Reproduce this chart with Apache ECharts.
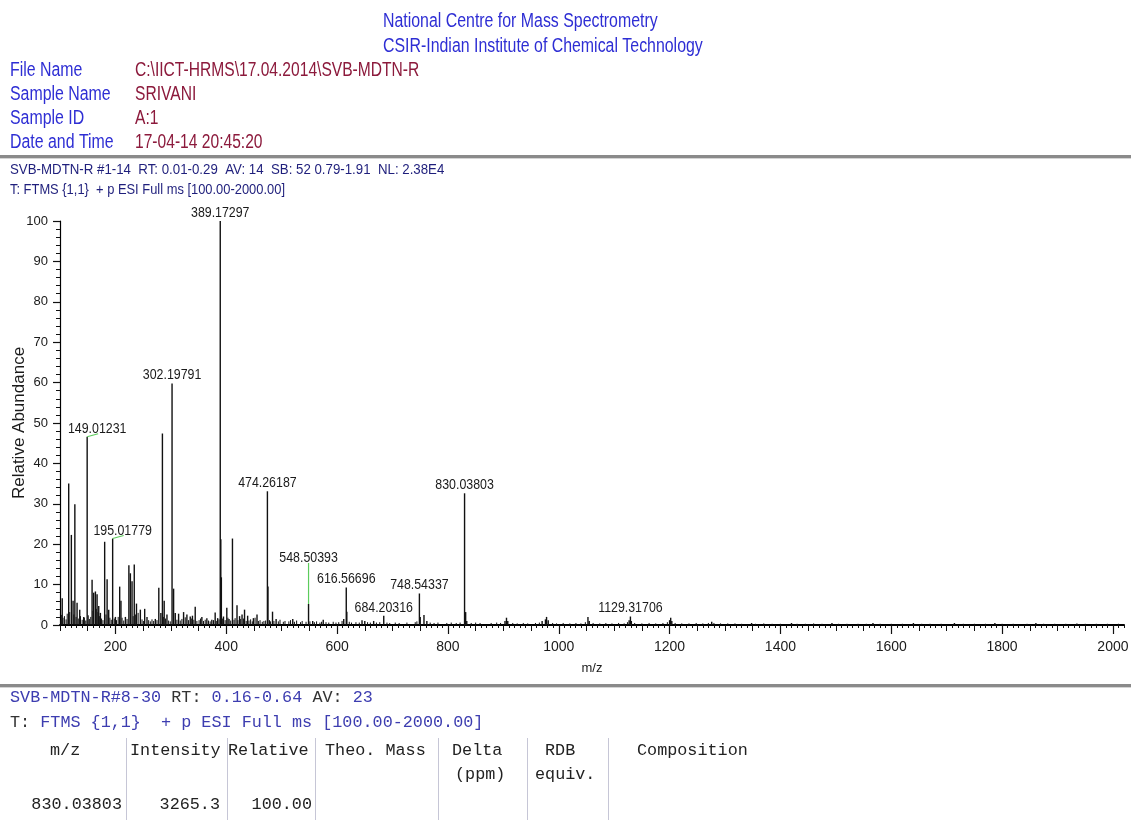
<!DOCTYPE html>
<html>
<head>
<meta charset="utf-8">
<title>SVB-MDTN-R HRMS</title>
<script src="https://cdn.jsdelivr.net/npm/echarts@6/dist/echarts.min.js"></script>
<style>
  html, body { margin: 0; padding: 0; background: #ffffff; }
  #main { width: 1131px; height: 820px; }
</style>
</head>
<body>
<div id="main"></div>
<script>
// ---- Spectrum data (m/z, relative abundance %) ----
// Peaks carrying an m/z annotation
const labelledMz = [149.01231, 195.01779, 302.19791, 389.17297, 474.26187, 548.50393,
                    616.56696, 684.20316, 748.54337, 830.03803, 1129.31706];
const labelledAbundance = [46.6, 21.4, 59.8, 100, 33.1, 5.2, 9.3, 2.3, 7.8, 32.6, 2.1];

// Other resolved peaks
const peakMz = [104.0, 115.7, 120.5, 123.6, 126.8, 130.8, 135.6, 142.8, 157.9, 160.8,
                163.9, 166.9, 169.9, 172.9, 180.6, 185.0, 187.9, 200.0, 207.7, 210.0,
                218.0, 224.3, 227.0, 230.0, 234.0, 238.0, 245.0, 252.8, 257.0, 272.0,
                278.3, 282.0, 284.8, 288.0, 293.0, 305.0, 308.0, 314.0, 323.0, 329.0,
                335.0, 339.0, 344.0, 356.0, 365.0, 374.0, 380.0, 384.5, 390.18, 391.18,
                395.0, 401.0, 405.0, 411.2, 419.4, 424.0, 428.5, 433.0, 438.6, 449.0,
                455.5, 475.26, 483.5, 490.0, 520.0, 556.0, 575.0, 612.0, 617.57, 645.0,
                650.0, 666.0, 750.0, 756.8, 762.0, 832.0, 834.0, 903.0, 905.7, 908.0,
                970.0, 976.0, 978.0, 981.0, 1052.7, 1055.0, 1127.0, 1131.0, 1200.0, 1202.0,
                1204.0, 1276.0, 1348.0, 1420.0, 1493.0, 1567.0, 1640.0, 1714.0, 1787.0, 1861.0,
                1935.0];
const peakAbundance = [6.6, 35.0, 22.3, 6.0, 29.9, 5.5, 3.8, 2.0, 11.2, 8.0,
                       8.3, 7.6, 4.7, 3.0, 20.6, 11.3, 3.8, 2.0, 9.5, 6.0,
                       2.0, 14.8, 12.8, 10.8, 15.0, 5.3, 3.8, 4.0, 2.0, 1.5,
                       9.2, 3.0, 47.4, 6.0, 2.6, 9.0, 3.0, 2.8, 3.2, 2.6,
                       2.1, 2.3, 4.5, 2.0, 1.7, 1.3, 3.1, 1.7, 21.2, 11.8,
                       2.1, 4.3, 1.5, 21.4, 4.9, 2.2, 2.6, 3.8, 2.3, 1.7,
                       2.6, 9.5, 3.3, 1.5, 1.5, 1.0, 1.3, 1.5, 3.3, 1.2,
                       1.0, 1.0, 2.0, 2.5, 1.0, 3.2, 1.0, 1.0, 1.8, 1.0,
                       1.0, 1.4, 2.0, 1.2, 2.0, 1.0, 1.2, 1.0, 1.2, 1.8,
                       1.0, 0.8, 0.5, 0.5, 0.5, 0.5, 0.5, 0.5, 0.5, 0.5,
                       0.4];

// Low-level baseline signals
const noiseMz = [101.5, 103, 105.5, 108, 111, 113, 117.5, 125, 129, 133, 137, 140, 144, 146.5,
                 151, 153, 155.5, 159.5, 165.5, 168.5, 171, 175, 177.5, 183, 190, 192.5, 198,
                 202, 205, 212, 215, 221, 232, 236, 241, 248, 250.5, 260, 263, 266, 269, 275,
                 286.5, 290.5, 296, 299, 311, 317, 320, 326, 332, 337, 341.5, 347, 351, 353.5,
                 359, 362, 368, 371, 377, 382, 387, 393, 398, 403, 408, 414, 416, 421, 426, 431,
                 436, 441, 444, 447, 452, 458, 461, 465, 468, 471, 478, 480, 486, 494, 497, 503,
                 506, 513, 516, 523, 527, 534, 537, 544, 551, 559, 563, 569, 572, 580, 585, 593,
                 598, 603, 609, 622, 626, 634, 640, 655, 660, 671, 677, 690, 695, 705, 712, 726,
                 741, 744, 768, 775, 782, 798, 806, 815, 822, 842, 850, 858, 878, 888, 895, 917,
                 925, 936, 944, 958, 965, 989, 996, 1008, 1020, 1031, 1040, 1048, 1062, 1074,
                 1085, 1096, 1108, 1118, 1124, 1137, 1150, 1163, 1175, 1188, 1196, 1210, 1222,
                 1235, 1248, 1260, 1270, 1280, 1292, 1305, 1318, 1330, 1355, 1370, 1385, 1400,
                 1430, 1445, 1460, 1475, 1505, 1520, 1540, 1555, 1580, 1600, 1620, 1655, 1670,
                 1690, 1730, 1750, 1770, 1800, 1820, 1845, 1875, 1895, 1915, 1950, 1970, 1990, 2010];
const noiseAbundance = [1.2, 2.5, 1.8, 2.2, 1.4, 2.8, 3.2, 2.6, 2.0, 1.6, 2.2, 1.3, 1.8, 1.1,
                        2.4, 1.5, 2.0, 3.5, 4.0, 3.2, 2.2, 1.6, 1.2, 2.6, 1.8, 1.3, 1.6,
                        1.2, 2.0, 1.8, 1.1, 1.5, 2.2, 2.6, 3.0, 1.4, 1.0, 1.2, 0.9, 1.4, 1.0, 1.2,
                        2.0, 1.6, 1.1, 0.9, 1.3, 1.1, 1.5, 1.9, 1.2, 1.6, 1.3, 1.0, 1.2, 1.6,
                        1.0, 1.3, 1.1, 0.9, 1.2, 1.0, 1.4, 1.6, 1.2, 1.8, 1.1, 1.3, 1.7, 1.2, 1.5, 1.6,
                        1.0, 1.1, 1.4, 0.9, 1.8, 1.0, 1.2, 0.8, 1.0, 1.1, 1.2, 0.9, 1.0, 0.9, 1.3, 0.8,
                        1.0, 0.9, 1.2, 0.8, 1.1, 0.7, 1.0, 0.8, 0.9, 0.7, 0.9, 0.6, 0.8, 0.7, 0.6, 0.8,
                        0.6, 0.7, 1.0, 0.8, 0.6, 0.7, 0.6, 0.7, 0.6, 0.6, 0.7, 0.6, 0.5, 0.6, 0.5, 0.6,
                        0.7, 0.9, 0.6, 0.5, 0.6, 0.5, 0.6, 0.5, 0.6, 0.5, 0.6, 0.5, 0.5, 0.6, 0.5, 0.5,
                        0.4, 0.5, 0.4, 0.5, 0.6, 0.5, 0.4, 0.5, 0.4, 0.5, 0.4, 0.7, 0.5, 0.4,
                        0.5, 0.4, 0.5, 0.4, 0.7, 0.5, 0.4, 0.5, 0.4, 0.5, 0.7, 0.5, 0.4,
                        0.4, 0.5, 0.4, 0.5, 0.5, 0.4, 0.4, 0.4, 0.3, 0.3, 0.4, 0.3, 0.3,
                        0.3, 0.3, 0.4, 0.3, 0.3, 0.3, 0.3, 0.3, 0.3, 0.3, 0.3, 0.3, 0.3,
                        0.3, 0.3, 0.3, 0.3, 0.3, 0.3, 0.3, 0.3, 0.3, 0.3, 0.3, 0.3, 0.3, 0.3];

// Axis tick labels
const mzTickLabels = [200, 400, 600, 800, 1000, 1200, 1400, 1600, 1800, 2000];
const abundanceTickLabels = [0, 10, 20, 30, 40, 50, 60, 70, 80, 90, 100];

// ---- Report text ----
const instituteLines = ['National Centre for Mass Spectrometry', 'CSIR-Indian Institute of Chemical Technology'];
const infoKeys = ['File Name', 'Sample Name', 'Sample ID', 'Date and Time'];
const infoValues = ['C:\\IICT-HRMS\\17.04.2014\\SVB-MDTN-R', 'SRIVANI', 'A:1', '17-04-14 20:45:20'];
const scanLine1 = 'SVB-MDTN-R #1-14  RT: 0.01-0.29  AV: 14  SB: 52 0.79-1.91  NL: 2.38E4';
const scanLine2 = 'T: FTMS {1,1}  + p ESI Full ms [100.00-2000.00]';
// composition-search header: [text, colour key] pieces
const searchLine1 = [['SVB-MDTN-R#8-30', 'v'], [' RT: ', 'k'], ['0.16-0.64', 'v'], [' AV: ', 'k'], ['23', 'v']];
const searchLine2 = [['T: ', 'k'], ['FTMS {1,1}  + p ESI Full ms [100.00-2000.00]', 'v']];
const tableHeaders = ['m/z', 'Intensity', 'Relative', 'Theo. Mass', 'Delta', 'RDB', 'Composition'];
const tableSubHeaders = ['', '', '', '', '(ppm)', 'equiv.', ''];
const tableRow = ['830.03803', '3265.3', '100.00'];

// ---- Drawing ----
const SANS = '"Liberation Sans", Arial, sans-serif';
const MONO = '"Liberation Mono", "Courier New", monospace';
const BLUE = '#2e2ed4';
const MAROON = '#8c1a3c';
const NAVY = '#1f1f7c';
const MONO_BLUE = '#3d3db0';
const MONO_SIZE = 16.8;
const MONO_CHAR = MONO_SIZE * 0.6;

const zip = (a, b) => a.map((v, i) => [v, b[i]]);

function stickSeries(data, width) {
  return {
    type: 'custom',
    coordinateSystem: 'cartesian2d',
    xAxisIndex: 0,
    yAxisIndex: 0,
    data: data,
    encode: { x: 0, y: 1 },
    clip: true,
    silent: true,
    animation: false,
    renderItem: function (params, api) {
      const base = api.coord([api.value(0), 0]);
      const tip = api.coord([api.value(0), api.value(1)]);
      return {
        type: 'line',
        shape: { x1: base[0], y1: base[1], x2: tip[0], y2: tip[1] },
        style: { stroke: '#111111', lineWidth: width }
      };
    }
  };
}

// Annotation placement tweaks: shifted labels get a green leader line
const annotationStyle = {
  '149.01231': { dx: 10, dy: 0, leader: 'slant' },
  '195.01779': { dx: 10, dy: 0, leader: 'slant' },
  '548.50393': { dx: 0, dy: -38, leader: 'drop' }
};

const annotationSeries = {
  type: 'custom',
  coordinateSystem: 'cartesian2d',
  xAxisIndex: 0,
  yAxisIndex: 0,
  data: zip(labelledMz, labelledAbundance),
  encode: { x: 0, y: 1 },
  clip: false,
  silent: true,
  animation: false,
  z: 5,
  renderItem: function (params, api) {
    const mz = api.value(0);
    const text = mz.toFixed(5);
    const tip = api.coord([mz, api.value(1)]);
    const st = annotationStyle[text] || { dx: 0, dy: 0 };
    const children = [];
    if (st.leader === 'slant') {
      children.push({ type: 'line', shape: { x1: tip[0], y1: tip[1], x2: tip[0] + st.dx + 1, y2: tip[1] - 3 },
        style: { stroke: '#5ccc5c', lineWidth: 1.2 } });
    } else if (st.leader === 'drop') {
      children.push({ type: 'line', shape: { x1: tip[0], y1: tip[1], x2: tip[0], y2: tip[1] + st.dy - 3 },
        style: { stroke: '#5ccc5c', lineWidth: 1.2 } });
    }
    children.push({
      type: 'text',
      x: tip[0] + st.dx,
      y: tip[1] - 1 + st.dy,
      scaleX: 0.86,
      style: { text: text, font: '14.4px ' + SANS, fill: '#1a1a1a', align: 'center', verticalAlign: 'bottom' }
    });
    return { type: 'group', children: children };
  }
};

// minor tick positions along m/z
const mzEvery50 = [], mzEvery10 = [];
for (let v = 100; v <= 2020; v += 10) {
  if (v % 50 === 0) mzEvery50.push(v); else mzEvery10.push(v);
}

function overlayMzAxis(values, len) {
  return {
    type: 'value', min: 100, max: 2020, position: 'bottom', gridIndex: 0,
    axisLine: { show: false },
    axisTick: { show: true, length: len, customValues: values, lineStyle: { color: '#111', width: 1 } },
    axisLabel: { show: false },
    splitLine: { show: false }
  };
}

// graphic helpers
function txt(x, y, text, font, fill, sx, align) {
  return {
    type: 'text', x: x, y: y, scaleX: sx || 1, silent: true,
    style: { text: text, font: font, fill: fill, align: align || 'left', verticalAlign: 'middle' }
  };
}
function hline(y, color, w) {
  return { type: 'rect', silent: true, shape: { x: 0, y: y, width: 1131, height: w }, style: { fill: color } };
}
function monoPieces(pieces, x, y) {
  let col = 0;
  pieces.forEach(([s, key]) => {
    graphics.push(txt(x + col * MONO_CHAR, y, s, MONO_SIZE + 'px ' + MONO, key === 'k' ? '#333333' : MONO_BLUE, 1));
    col += s.length;
  });
}

const graphics = [];
instituteLines.forEach((s, i) => graphics.push(txt(383, 22 + i * 25, s, '19.5px ' + SANS, BLUE, 0.815)));
infoKeys.forEach((s, i) => {
  graphics.push(txt(10, 71 + i * 24, s, '19.5px ' + SANS, BLUE, 0.815));
  graphics.push(txt(135, 71 + i * 24, infoValues[i], '19.5px ' + SANS, MAROON, 0.8));
});
graphics.push(hline(155, '#8a8a8a', 3));
graphics.push(hline(158, '#d4d4d4', 1));
graphics.push(txt(10, 170, scanLine1, '15px ' + SANS, NAVY, 0.885));
graphics.push(txt(10, 190, scanLine2, '15px ' + SANS, NAVY, 0.86));

graphics.push(hline(684, '#8a8a8a', 3));
graphics.push(hline(687, '#d4d4d4', 1));
monoPieces(searchLine1, 10, 698);
monoPieces(searchLine2, 10, 723);

// results table
const colLeft = [50, 130, 228, 325, 452, 545, 637];
const colSubLeft = [0, 0, 0, 0, 455, 535, 0];
const colRight = [122, 220, 312];
const colRules = [126, 227, 315, 438, 527, 608];
const monoFont = MONO_SIZE + 'px ' + MONO;
tableHeaders.forEach((s, i) => graphics.push(txt(colLeft[i], 751, s, monoFont, '#222', 1)));
tableSubHeaders.forEach((s, i) => { if (s) graphics.push(txt(colSubLeft[i], 775, s, monoFont, '#222', 1)); });
tableRow.forEach((s, i) => graphics.push(txt(colRight[i], 805, s, monoFont, '#222', 1, 'right')));
colRules.forEach(x => graphics.push({
  type: 'line', silent: true, shape: { x1: x + 0.5, y1: 738, x2: x + 0.5, y2: 820 },
  style: { stroke: '#c6c6d6', lineWidth: 1 }
}));

const chart = echarts.init(document.getElementById('main'), null, { renderer: 'canvas' });
chart.setOption({
  animation: false,
  backgroundColor: '#ffffff',
  textStyle: { fontFamily: SANS },
  grid: { left: 60, right: 7, top: 221, bottom: 195, containLabel: false, outerBoundsMode: 'none' },
  xAxis: [
    {
      type: 'value', min: 100, max: 2020, position: 'bottom', gridIndex: 0,
      name: 'm/z', nameLocation: 'middle', nameGap: 37, nameMoveOverlap: false,
      nameTextStyle: { color: '#1a1a1a', fontSize: 13, fontFamily: SANS },
      axisLine: { show: true, onZero: false, lineStyle: { color: '#000', width: 2 } },
      axisTick: { show: true, length: 9, customValues: mzTickLabels, lineStyle: { color: '#111', width: 1.2 } },
      axisLabel: { show: true, customValues: mzTickLabels, color: '#1a1a1a', fontSize: 14, fontFamily: SANS, margin: 15,
                   formatter: v => String(v) },
      splitLine: { show: false }
    },
    overlayMzAxis(mzEvery50, 6),
    overlayMzAxis(mzEvery10, 3)
  ],
  yAxis: {
    type: 'value', min: 0, max: 100, interval: 10,
    name: 'Relative Abundance', nameLocation: 'middle', nameGap: 32, nameMoveOverlap: false,
    nameTextStyle: { color: '#1a1a1a', fontSize: 17, fontFamily: SANS },
    axisLine: { show: true, lineStyle: { color: '#000', width: 1.2 } },
    axisTick: { show: true, length: 7, customValues: abundanceTickLabels, lineStyle: { color: '#111', width: 1.2 } },
    minorTick: { show: true, splitNumber: 5, length: 4, lineStyle: { color: '#111', width: 1 } },
    axisLabel: { color: '#1a1a1a', fontSize: 13, fontFamily: SANS, margin: 12, customValues: abundanceTickLabels,
                 formatter: v => String(v) },
    splitLine: { show: false },
    minorSplitLine: { show: false }
  },
  series: [
    stickSeries(zip(noiseMz, noiseAbundance), 1),
    stickSeries(zip(peakMz, peakAbundance), 1.4),
    stickSeries(zip(labelledMz, labelledAbundance), 1.4),
    annotationSeries
  ],
  graphic: graphics
});
</script>
</body>
</html>
